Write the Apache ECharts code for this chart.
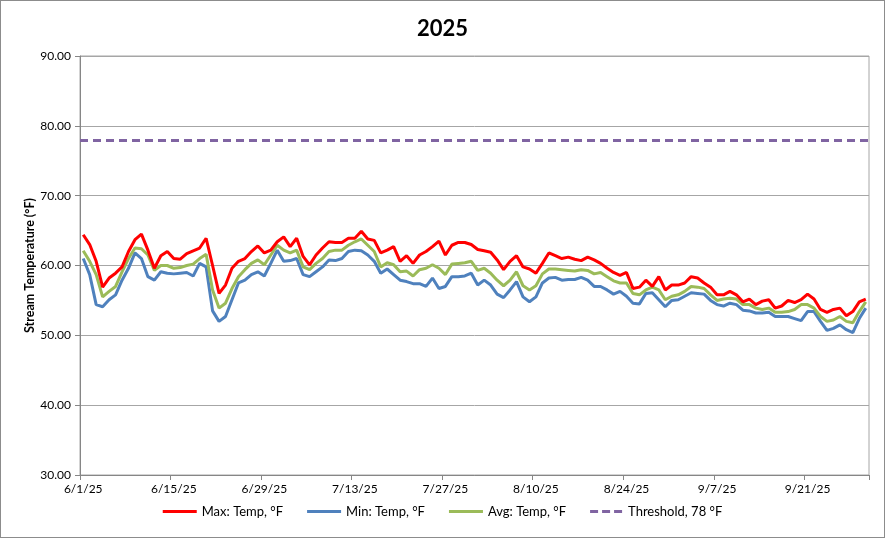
<!DOCTYPE html>
<html>
<head>
<meta charset="utf-8">
<script src="https://cdn.jsdelivr.net/npm/echarts@6/dist/echarts.min.js"></script>
<style>
html,body{margin:0;padding:0;background:#fff;}
#wrap{position:relative;width:885px;height:538px;}
#chart{position:absolute;left:0;top:0;width:885px;height:538px;}
#frame{position:absolute;left:0;top:0;width:885px;height:538px;box-sizing:border-box;border:1px solid #8c8c8c;pointer-events:none;}
</style>
</head>
<body>
<div id="wrap"><div id="chart"></div><div id="frame"></div></div>
<script>
const titleText = '2025';
const yAxisName = 'Stream Temperature (°F)';
const seriesNames = ['Max: Temp, °F', 'Min: Temp, °F', 'Avg: Temp, °F', 'Threshold, 78 °F'];
const thresholdValue = 78;

const dates = [
 '6/1/25','6/2/25','6/3/25','6/4/25','6/5/25','6/6/25','6/7/25','6/8/25','6/9/25','6/10/25',
 '6/11/25','6/12/25','6/13/25','6/14/25','6/15/25','6/16/25','6/17/25','6/18/25','6/19/25','6/20/25',
 '6/21/25','6/22/25','6/23/25','6/24/25','6/25/25','6/26/25','6/27/25','6/28/25','6/29/25','6/30/25',
 '7/1/25','7/2/25','7/3/25','7/4/25','7/5/25','7/6/25','7/7/25','7/8/25','7/9/25','7/10/25',
 '7/11/25','7/12/25','7/13/25','7/14/25','7/15/25','7/16/25','7/17/25','7/18/25','7/19/25','7/20/25',
 '7/21/25','7/22/25','7/23/25','7/24/25','7/25/25','7/26/25','7/27/25','7/28/25','7/29/25','7/30/25','7/31/25',
 '8/1/25','8/2/25','8/3/25','8/4/25','8/5/25','8/6/25','8/7/25','8/8/25','8/9/25','8/10/25',
 '8/11/25','8/12/25','8/13/25','8/14/25','8/15/25','8/16/25','8/17/25','8/18/25','8/19/25','8/20/25',
 '8/21/25','8/22/25','8/23/25','8/24/25','8/25/25','8/26/25','8/27/25','8/28/25','8/29/25','8/30/25','8/31/25',
 '9/1/25','9/2/25','9/3/25','9/4/25','9/5/25','9/6/25','9/7/25','9/8/25','9/9/25','9/10/25',
 '9/11/25','9/12/25','9/13/25','9/14/25','9/15/25','9/16/25','9/17/25','9/18/25','9/19/25','9/20/25',
 '9/21/25','9/22/25','9/23/25','9/24/25','9/25/25','9/26/25','9/27/25','9/28/25','9/29/25','9/30/25'
];

const maxTemp = [
 64.4,63.0,60.6,56.9,58.2,58.9,59.8,62.0,63.7,64.5,
 62.2,59.6,61.4,62.0,61.0,60.9,61.7,62.1,62.5,63.9,
 60.0,56.0,57.2,59.6,60.6,61.0,62.0,62.8,61.8,62.2,
 63.4,64.1,62.7,63.9,61.3,60.1,61.5,62.5,63.4,63.3,
 63.3,63.9,63.9,64.9,63.8,63.6,61.8,62.2,62.7,60.6,
 61.4,60.3,61.5,62.0,62.7,63.5,61.5,62.9,63.3,63.3,63.0,
 62.3,62.1,61.9,60.8,59.4,60.6,61.4,59.8,59.5,58.9,
 60.3,61.8,61.4,61.0,61.2,60.9,60.7,61.2,60.8,60.3,
 59.6,59.0,58.6,59.0,56.7,56.9,57.9,57.0,58.4,56.5,57.2,
 57.2,57.5,58.4,58.2,57.5,56.9,55.8,55.8,56.3,55.8,
 54.8,55.2,54.4,54.9,55.1,53.9,54.2,55.0,54.7,55.1,
 55.9,55.2,53.7,53.3,53.7,53.9,52.8,53.4,54.8,55.2
];

const minTemp = [
 61.0,58.7,54.4,54.1,55.1,55.8,57.9,59.6,61.8,61.0,
 58.4,57.9,59.1,58.9,58.8,58.9,59.0,58.5,60.3,59.8,
 53.5,52.0,52.7,55.1,57.5,57.9,58.7,59.1,58.5,60.3,
 62.2,60.6,60.7,61.0,58.7,58.4,59.1,59.8,60.8,60.7,
 61.0,62.0,62.2,62.1,61.5,60.6,58.9,59.5,58.7,57.9,
 57.7,57.4,57.4,57.0,58.2,56.7,57.0,58.4,58.4,58.5,58.9,
 57.2,57.9,57.2,55.9,55.4,56.5,57.7,55.5,54.8,55.5,
 57.5,58.2,58.3,57.9,58.0,58.0,58.3,57.9,57.0,57.0,
 56.5,55.9,56.3,55.6,54.6,54.5,56.0,56.1,55.1,54.1,55.0,
 55.1,55.6,56.1,56.0,55.9,55.0,54.4,54.2,54.6,54.4,
 53.6,53.5,53.2,53.2,53.3,52.7,52.7,52.7,52.4,52.1,
 53.4,53.4,52.0,50.7,51.0,51.5,50.8,50.4,52.4,53.9
];

const avgTemp = [
 62.1,60.6,58.7,55.5,56.3,57.0,59.1,61.0,62.5,62.4,
 61.5,59.3,60.0,60.0,59.6,59.7,60.0,60.2,61.0,61.6,
 56.5,53.9,54.6,56.7,58.4,59.4,60.3,60.8,60.1,61.5,
 62.9,62.2,61.8,62.2,59.8,59.4,60.3,61.0,62.0,62.2,
 62.2,62.9,63.4,63.8,62.9,62.0,59.8,60.4,60.1,59.1,
 59.2,58.5,59.4,59.6,60.1,59.6,58.7,60.2,60.3,60.4,60.6,
 59.3,59.6,58.9,57.9,57.1,57.9,59.1,57.1,56.5,57.1,
 58.8,59.5,59.5,59.4,59.3,59.2,59.4,59.3,58.8,59.0,
 58.4,57.8,57.5,57.5,56.0,55.8,56.5,56.9,56.5,55.1,55.6,
 55.8,56.3,57.0,56.9,56.7,55.8,55.0,55.2,55.3,55.2,
 54.4,54.4,53.9,53.7,53.9,53.3,53.3,53.4,53.7,54.4,
 54.4,53.9,52.7,52.0,52.2,52.7,52.0,51.8,53.4,54.8
];

const yMin = 30, yMax = 90, yStep = 10;
const colors = ['#FF0000', '#4F81BD', '#9BBB59', '#8064A2'];
const fontFam = 'Lato, "Liberation Sans", sans-serif';
const solidIcon = 'rect';
const dashIcon = 'path://M0,0h8v3h-8z M12,0h8v3h-8z M24,0h8v3h-8z';

const chart = echarts.init(document.getElementById('chart'), null, {renderer: 'canvas'});
chart.setOption({
  animation: false,
  backgroundColor: '#ffffff',
  title: {
    text: titleText, left: 'center', top: 13,
    textStyle: {fontFamily: fontFam, fontWeight: 'bold', fontSize: 22, color: '#000'}
  },
  legend: {
    bottom: 15, left: 'center',
    itemWidth: 34, itemHeight: 3, itemGap: 24,
    textStyle: {fontFamily: fontFam, fontSize: 13, color: '#000'},
    data: [
      {name: seriesNames[0], icon: solidIcon},
      {name: seriesNames[1], icon: solidIcon},
      {name: seriesNames[2], icon: solidIcon},
      {name: seriesNames[3], icon: dashIcon}
    ]
  },
  grid: {left: 80, right: 16, top: 56, bottom: 63, show: true, borderColor: '#a6a6a6', borderWidth: 1},
  xAxis: {
    type: 'category', data: dates, boundaryGap: true,
    axisLine: {lineStyle: {color: '#868686', width: 1}},
    axisTick: {show: true, interval: 13, length: 5, lineStyle: {color: '#868686'}},
    axisLabel: {interval: 13, margin: 8, fontFamily: fontFam, fontSize: 12, color: '#000'},
    splitLine: {show: false}
  },
  yAxis: {
    type: 'value', min: yMin, max: yMax, interval: yStep,
    name: yAxisName, nameLocation: 'middle', nameGap: 44, nameRotate: 90, nameMoveOverlap: false,
    nameTextStyle: {fontFamily: fontFam, fontWeight: 'bold', fontSize: 12.5, color: '#000'},
    axisLine: {show: true, lineStyle: {color: '#868686'}},
    axisTick: {show: true, length: 5, lineStyle: {color: '#868686'}},
    axisLabel: {margin: 9, fontFamily: fontFam, fontSize: 12, color: '#000', formatter: v => v.toFixed(2)},
    splitLine: {show: true, lineStyle: {color: '#a6a6a6', width: 1}}
  },
  series: [
    {name: seriesNames[0], type: 'line', data: maxTemp, symbol: 'none', showSymbol: false, z: 4,
     lineStyle: {color: colors[0], width: 3}, itemStyle: {color: colors[0]}},
    {name: seriesNames[1], type: 'line', data: minTemp, symbol: 'none', showSymbol: false, z: 3,
     lineStyle: {color: colors[1], width: 3}, itemStyle: {color: colors[1]}},
    {name: seriesNames[2], type: 'line', data: avgTemp, symbol: 'none', showSymbol: false, z: 3,
     lineStyle: {color: colors[2], width: 3}, itemStyle: {color: colors[2]}},
    {name: seriesNames[3], type: 'line', data: [], symbol: 'none', showSymbol: false,
     lineStyle: {color: colors[3], width: 3, type: [8, 5]}, itemStyle: {color: colors[3]},
     markLine: {silent: true, symbol: ['none', 'none'], label: {show: false},
       lineStyle: {color: colors[3], width: 3, type: [8, 5]},
       data: [{yAxis: thresholdValue}]}}
  ]
});
</script>
</body>
</html>
